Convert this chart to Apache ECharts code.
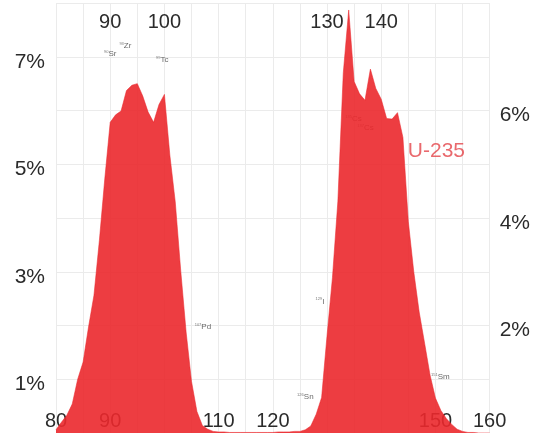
<!DOCTYPE html>
<html>
<head>
<meta charset="utf-8">
<script src="https://cdn.jsdelivr.net/npm/echarts@6/dist/echarts.min.js"></script>
<style>
  html, body { margin: 0; padding: 0; background: #ffffff; }
  #chart { width: 533px; height: 433px; }
</style>
</head>
<body>
<div id="chart"></div>
<script>
// Thermal-neutron fission product yield of U-235, per mass number (percent)
const massNumbers = [
  80, 81, 82, 83, 84, 85, 86, 87, 88, 89,
  90, 91, 92, 93, 94, 95, 96, 97, 98, 99,
  100, 101, 102, 103, 104, 105, 106, 107, 108, 109,
  110, 111, 112, 113, 114, 115, 116, 117, 118, 119,
  120, 121, 122, 123, 124, 125, 126, 127, 128, 129,
  130, 131, 132, 133, 134, 135, 136, 137, 138, 139,
  140, 141, 142, 143, 144, 145, 146, 147, 148, 149,
  150, 151, 152, 153, 154, 155, 156, 157, 158, 159, 160
];
const yieldU235 = [
  0.06, 0.20, 0.33, 0.54, 1.00, 1.32, 1.97, 2.56, 3.58, 4.73,
  5.78, 5.92, 5.99, 6.37, 6.47, 6.50, 6.27, 5.97, 5.78, 6.11,
  6.30, 5.17, 4.30, 3.03, 1.88, 0.96, 0.40, 0.14, 0.07, 0.03,
  0.02, 0.02, 0.01, 0.01, 0.01, 0.01, 0.01, 0.01, 0.01, 0.01,
  0.01, 0.02, 0.02, 0.02, 0.03, 0.03, 0.06, 0.13, 0.35, 0.66,
  1.81, 2.89, 4.31, 6.70, 7.87, 6.54, 6.31, 6.19, 6.77, 6.41,
  6.21, 5.85, 5.84, 5.96, 5.50, 3.93, 3.00, 2.25, 1.67, 1.08,
  0.65, 0.42, 0.27, 0.16, 0.07, 0.03, 0.01, 0.01, 0.00, 0.00, 0.00
];

// Axis tick labels
const bottomTicks = [80, 90, 110, 120, 150, 160];
const topTicks = [90, 100, 130, 140];
const leftTicks = [1, 3, 5, 7];
const rightTicks = [2, 4, 6];

// Long-lived fission products, tagged near their mass numbers
const nuclideMass = [90, 92.8, 99.6, 107.1, 126.0, 128.7, 134.9, 137.1, 150.9];
const nuclideLevel = [7.05, 7.2, 6.95, 1.98, 0.68, 2.45, 5.85, 5.68, 1.05];
const nuclideIsotope = ['90', '93', '99', '107', '126', '129', '135', '137', '151'];
const nuclideElement = ['Sr', 'Zr', 'Tc', 'Pd', 'Sn', 'I', 'Cs', 'Cs', 'Sm'];

// Series name label position
const seriesTagMass = 144.9;
const seriesTagLevel = 5.25;

const fontFamily = '"Liberation Sans", Arial, Helvetica, sans-serif';
const tickColor = '#2b2b2b';
const gridColor = '#ebebeb';

const curve = massNumbers.map((m, i) => [m, yieldU235[i]]);
const tags = nuclideMass.map((m, i) => ({
  value: [m, nuclideLevel[i]],
  iso: nuclideIsotope[i],
  el: nuclideElement[i]
}));

// Percent labels sit a little below their grid line: a thin spacer line above the text
const percentRich = {
  sp: { fontSize: 1, lineHeight: 10 },
  p: { fontSize: 21, lineHeight: 21, color: tickColor, fontFamily }
};
const percentLabel = (list) => (v) => list.includes(v) ? '{sp|}\n{p|' + v + '%}' : '';

const chart = echarts.init(document.getElementById('chart'), null, { renderer: 'canvas' });

chart.setOption({
  animation: false,
  backgroundColor: '#ffffff',
  grid: { left: 56, right: 43, top: 3, height: 434 },
  xAxis: [
    {
      type: 'value', position: 'bottom', min: 80, max: 160, interval: 5,
      axisLine: { show: false }, axisTick: { show: false },
      axisLabel: {
        inside: true, margin: 2, fontSize: 20, color: tickColor, fontFamily,
        formatter: v => bottomTicks.includes(v) ? String(v) : ''
      },
      splitLine: { show: true, lineStyle: { color: gridColor, width: 1 } }
    },
    {
      type: 'value', position: 'top', min: 80, max: 160, interval: 10,
      axisLine: { show: false }, axisTick: { show: false },
      axisLabel: {
        inside: true, margin: 9, fontSize: 20, color: tickColor, fontFamily,
        formatter: v => topTicks.includes(v) ? String(v) : ''
      },
      splitLine: { show: false }
    }
  ],
  yAxis: [
    {
      type: 'value', position: 'left', min: 0, max: 8, interval: 1,
      axisLine: { show: false }, axisTick: { show: false },
      axisLabel: {
        margin: 11, fontSize: 21, color: tickColor, fontFamily,
        formatter: percentLabel(leftTicks), rich: percentRich
      },
      splitLine: { show: true, lineStyle: { color: gridColor, width: 1 } }
    },
    {
      type: 'value', position: 'right', min: 0, max: 8, interval: 1,
      axisLine: { show: false }, axisTick: { show: false },
      axisLabel: {
        margin: 10, fontSize: 21, color: tickColor, fontFamily,
        formatter: percentLabel(rightTicks), rich: percentRich
      },
      splitLine: { show: false }
    }
  ],
  series: [
    {
      name: 'nuclides',
      type: 'scatter',
      xAxisIndex: 0, yAxisIndex: 0,
      z: 1,
      symbolSize: 0,
      silent: true,
      data: tags,
      label: {
        show: true,
        position: 'inside',
        formatter: p => '{s|' + p.data.iso + '}{e|' + p.data.el + '}',
        rich: {
          s: { fontSize: 4, color: '#555', fontFamily, verticalAlign: 'top', padding: [0, 0, 3, 0] },
          e: { fontSize: 8, color: '#444', fontFamily }
        }
      }
    },
    {
      name: 'U-235',
      type: 'line',
      xAxisIndex: 0, yAxisIndex: 0,
      z: 2,
      data: curve,
      showSymbol: false,
      symbol: 'none',
      smooth: false,
      lineStyle: { color: 'rgba(235,40,44,0.9)', width: 0.6 },
      areaStyle: { color: 'rgba(235,40,44,0.9)', opacity: 1 }
    },
    {
      name: 'U-235',
      type: 'scatter',
      xAxisIndex: 0, yAxisIndex: 0,
      z: 3,
      symbolSize: 0,
      silent: true,
      data: [[seriesTagMass, seriesTagLevel]],
      label: {
        show: true,
        position: 'inside',
        align: 'left',
        formatter: '{a}',
        fontSize: 21,
        color: '#e34449',
        fontFamily
      }
    }
  ]
});
</script>
</body>
</html>
